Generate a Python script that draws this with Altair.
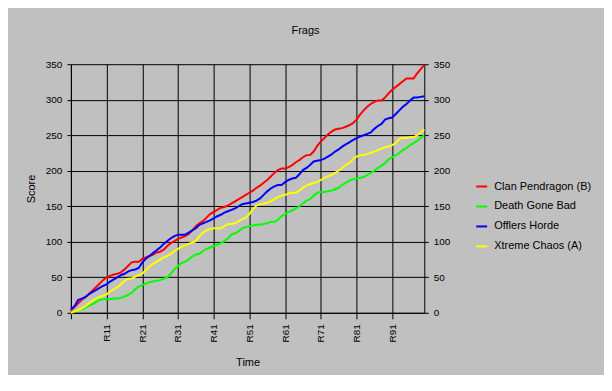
import altair as alt
import pandas as pd

rounds = [f"R{i}" for i in range(1, 101)]
tick_rounds = ["R1", "R11", "R21", "R31", "R41", "R51", "R61", "R71", "R81", "R91"]
y_ticks = [0, 50, 100, 150, 200, 250, 300, 350]

teams = ["Clan Pendragon (B)", "Death Gone Bad", "Offlers Horde", "Xtreme Chaos (A)"]
team_colors = ["#ff0000", "#00ff00", "#0000ff", "#ffff00"]

clan_pendragon = [
    3, 8, 13, 18, 22, 26, 31, 36, 41, 46,
    50, 52, 54, 55, 57, 61, 66, 71, 72, 72,
    76, 78, 80, 82, 85, 86, 89, 94, 98, 101,
    104, 106, 108, 111, 116, 122, 126, 129, 134, 139,
    142, 145, 148, 149, 151, 154, 157, 160, 163, 166,
    169, 172, 176, 179, 183, 187, 192, 197, 201, 203,
    203, 205, 208, 212, 215, 219, 222, 222, 227, 235,
    241, 246, 251, 255, 258, 259, 260, 262, 264, 267,
    272, 279, 285, 290, 294, 297, 299, 299, 303, 309,
    314, 318, 322, 326, 330, 330, 330, 337, 343, 349,
]
death_gone_bad = [
    0, 2, 4, 5, 7, 10, 12, 15, 18, 19,
    19, 19, 20, 20, 21, 23, 25, 28, 33, 37,
    39, 41, 43, 44, 45, 46, 48, 50, 55, 61,
    66, 70, 72, 75, 79, 82, 83, 87, 90, 92,
    94, 96, 98, 101, 105, 110, 112, 115, 119, 121,
    122, 123, 124, 124, 125, 126, 128, 128, 131, 136,
    139, 142, 144, 147, 150, 154, 158, 160, 165, 169,
    170, 170, 171, 172, 174, 176, 180, 183, 186, 188,
    189, 190, 191, 194, 197, 200, 204, 207, 211, 216,
    219, 222, 225, 229, 232, 236, 239, 242, 246, 250,
]
offlers_horde = [
    5, 9, 18, 20, 22, 26, 29, 32, 35, 38,
    40, 44, 47, 50, 53, 55, 58, 60, 61, 63,
    71, 76, 80, 84, 88, 92, 97, 101, 105, 108,
    110, 110, 110, 113, 116, 119, 124, 126, 128, 130,
    133, 136, 138, 141, 143, 145, 147, 150, 153, 154,
    155, 156, 158, 161, 166, 171, 175, 178, 180, 180,
    184, 187, 189, 190, 195, 201, 204, 208, 213, 214,
    215, 217, 220, 223, 227, 230, 234, 237, 240, 243,
    246, 248, 250, 252, 254, 259, 263, 266, 272, 274,
    275, 280, 285, 290, 294, 299, 303, 303, 304, 305,
]
xtreme_chaos = [
    0, 2, 4, 6, 9, 13, 17, 20, 22, 24,
    26, 30, 33, 36, 40, 45, 48, 48, 51, 53,
    55, 60, 65, 69, 72, 75, 78, 80, 83, 87,
    90, 93, 95, 97, 99, 101, 108, 113, 116, 118,
    119, 119, 119, 122, 125, 125, 126, 129, 132, 134,
    139, 146, 151, 153, 154, 155, 157, 160, 163, 165,
    166, 168, 169, 169, 172, 176, 179, 181, 183, 184,
    187, 190, 192, 194, 197, 200, 204, 208, 211, 216,
    220, 222, 222, 224, 225, 227, 229, 231, 233, 234,
    236, 239, 245, 246, 246, 247, 247, 250, 254, 258,
]

series = [clan_pendragon, death_gone_bad, offlers_horde, xtreme_chaos]
rows = []
for team, vals in zip(teams, series):
    for i, (r, v) in enumerate(zip(rounds, vals)):
        rows.append({"round": r, "idx": i, "team": team, "score": v})
df = pd.DataFrame(rows)

FONT = "Liberation Sans"

x_enc = alt.X(
    "round:N",
    scale=alt.Scale(type="point", domain=rounds, padding=0),
    axis=alt.Axis(
        values=tick_rounds,
        labelExpr="datum.value == 'R1' ? '' : datum.label",
        labelAngle=270,
        title="Time",
        titleFont=FONT, titleFontSize=11, titleFontWeight="normal", titleColor="black",
        titlePadding=14,
        labelFont=FONT, labelFontSize=10, labelColor="black", labelPadding=5,
        grid=True, gridColor="black", gridWidth=1, gridOpacity=1,
        domainColor="black", domainWidth=1,
        tickColor="black", tickSize=6, tickWidth=1,
    ),
)

lines = alt.Chart(df).mark_line(strokeWidth=2).encode(
    x=x_enc,
    y=alt.Y(
        "score:Q",
        scale=alt.Scale(domain=[0, 350]),
        axis=alt.Axis(
            orient="left", values=y_ticks, title="Score",
            titleFont=FONT, titleFontSize=11, titleFontWeight="normal", titleColor="black",
            titlePadding=9,
            labelFont=FONT, labelFontSize=10, labelColor="black", labelPadding=5,
            grid=True, gridColor="black", gridWidth=1, gridOpacity=1,
            domainColor="black", domainWidth=1,
            tickColor="black", tickSize=4, tickWidth=1,
        ),
    ),
    color=alt.Color(
        "team:N",
        scale=alt.Scale(domain=teams, range=team_colors),
        legend=alt.Legend(
            title=None, orient="none", legendX=405, legendY=116,
            symbolType="stroke", symbolStrokeWidth=2, symbolSize=120,
            labelFont=FONT, labelFontSize=11, labelColor="black",
            labelOffset=6, rowPadding=8, padding=0,
        ),
    ),
    order=alt.Order("idx:Q"),
)

right_axis = alt.Chart(df).mark_line(opacity=0).encode(
    x=x_enc,
    y=alt.Y(
        "score:Q",
        scale=alt.Scale(domain=[0, 350]),
        axis=alt.Axis(
            orient="right", values=y_ticks, title="",
            labelFont=FONT, labelFontSize=10, labelColor="black", labelPadding=5,
            grid=False, domainColor="black", domainWidth=1,
            tickColor="black", tickSize=4, tickWidth=1,
        ),
    ),
    detail="team:N",
    order=alt.Order("idx:Q"),
)

chart = alt.layer(lines, right_axis).resolve_scale(y="independent").properties(
    width=354,
    height=249,
    title=alt.TitleParams(
        text="Frags", anchor="middle", frame="group", dx=58, offset=23,
        font=FONT, fontSize=11, fontWeight="normal", color="black",
    ),
    background="#c0c0c0",
    autosize=alt.AutoSizeParams(type="none"),
    padding={"left": 63, "top": 56, "right": 180, "bottom": 62},
).configure_view(strokeWidth=0)

chart.save("out.html", embed_options={"renderer": "svg", "actions": False})
